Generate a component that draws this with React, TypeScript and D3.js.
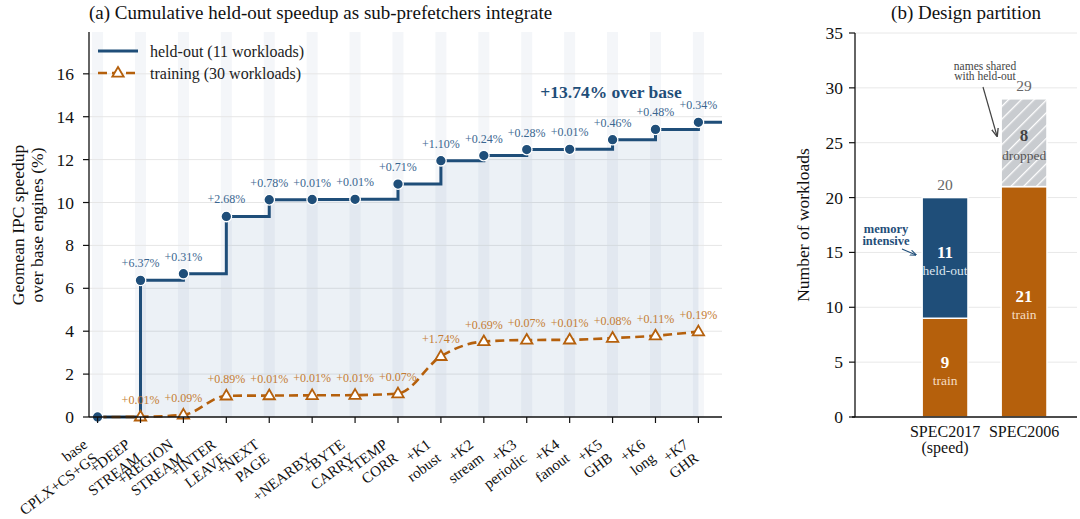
import React from 'react';
import * as d3 from 'd3';

// ---- data ----
const steps = [
  'base\nCPLX+CS+GS', '+DEEP\nSTREAM', '+REGION\nSTREAM', '+INTER\nLEAVE', '+NEXT\nPAGE',
  '\n+NEARBY', '+BYTE\nCARRY', '+TEMP\nCORR', '+K1\nrobust', '+K2\nstream', '+K3\nperiodic',
  '+K4\nfanout', '+K5\nGHB', '+K6\nlong', '+K7\nGHR',
];
const heldOut = [0, 6.37, 6.68, 9.35, 10.13, 10.14, 10.15, 10.86, 11.95, 12.19, 12.47, 12.48, 12.93, 13.41, 13.74];
const training = [0, 0.01, 0.10, 0.99, 1.00, 1.01, 1.02, 1.09, 2.83, 3.52, 3.59, 3.60, 3.68, 3.79, 3.98];
const heldDelta = ['', '+6.37%', '+0.31%', '+2.68%', '+0.78%', '+0.01%', '+0.01%', '+0.71%', '+1.10%', '+0.24%', '+0.28%', '+0.01%', '+0.46%', '+0.48%', '+0.34%'];
const trainDelta = ['', '+0.01%', '+0.09%', '+0.89%', '+0.01%', '+0.01%', '+0.01%', '+0.07%', '+1.74%', '+0.69%', '+0.07%', '+0.01%', '+0.08%', '+0.11%', '+0.19%'];
const leftTicks = [0, 2, 4, 6, 8, 10, 12, 14, 16];

const suites = ['SPEC2017\n(speed)', 'SPEC2006'];
const trainCounts = [9, 21];
const heldCounts = [11, 0];
const droppedCounts = [0, 8];
const rightTicks = [0, 5, 10, 15, 20, 25, 30, 35];

const BLUE = '#1f4e79';
const ORANGE = '#b5600c';
const FONT = '"Liberation Serif", "DejaVu Serif", serif';

export default function App() {
  const W = 1080, H = 519;

  // left panel scales
  const xA = d3.scaleLinear().domain([-0.2, 14.55]).range([89, 722]);
  const yA = d3.scaleLinear().domain([0, 17.95]).range([417, 32]);
  const idx = steps.map((_, i) => i);

  const stepLine = d3.line<[number, number]>()
    .x(d => xA(d[0])).y(d => yA(d[1])).curve(d3.curveStepAfter);
  const heldPts: [number, number][] = heldOut.map((v, i) => [i, v]);
  const heldPath = stepLine([...heldPts, [xA.domain()[1], heldOut[heldOut.length - 1]]])!;
  const heldArea = d3.area<[number, number]>()
    .x(d => xA(d[0])).y0(yA(0)).y1(d => yA(d[1])).curve(d3.curveStepAfter)(heldPts)!;
  const trainPath = d3.line<number>()
    .x((_, i) => xA(i)).y(d => yA(d)).curve(d3.curveMonotoneX)(training)!;

  const tri = (cx: number, cy: number, s = 6) =>
    `M${cx},${cy - s}L${cx + s * 0.95},${cy + s * 0.62}L${cx - s * 0.95},${cy + s * 0.62}Z`;

  // right panel scales
  const xB = d3.scaleLinear().domain([-1.14, 1.67]).range([855, 1077]);
  const yB = d3.scaleLinear().domain([0, 35]).range([417, 33]);
  const bw = xB(0.58) - xB(0);

  const ang = 37;
  const s = Math.sin(ang * Math.PI / 180), c = Math.cos(ang * Math.PI / 180);
  const lh = 17;

  return (
    <svg width={W} height={H} style={{ position: 'absolute', left: 0, top: 0, background: '#fff' }}
      fontFamily={FONT}>
      <defs>
        <pattern id="hatch" patternUnits="userSpaceOnUse" width="9" height="9" patternTransform="rotate(45)">
          <rect width="9" height="9" fill="#c9ccd0" />
          <line x1="0" y1="0" x2="0" y2="9" stroke="#fff" strokeWidth="2.6" />
        </pattern>
        <marker id="arrB" viewBox="0 0 10 10" refX="9" refY="5" markerWidth="6" markerHeight="6" orient="auto">
          <path d="M0,1L10,5L0,9" fill="none" stroke={BLUE} strokeWidth="1.6" />
        </marker>
        <marker id="arrG" viewBox="0 0 10 10" refX="9" refY="5" markerWidth="7" markerHeight="7" orient="auto">
          <path d="M0,1L10,5L0,9" fill="none" stroke="#444" strokeWidth="1.6" />
        </marker>
      </defs>

      {/* ===== (a) ===== */}
      <text x={89} y={19} fontSize={19} fill="#111">(a) Cumulative held-out speedup as sub-prefetchers integrate</text>

      {idx.map(i => (
        <rect key={'st' + i} x={xA(i) - 5.5} y={32} width={11} height={417 - 32} fill="#f4f6f9" />
      ))}
      {leftTicks.filter(t => t > 0).map(t => (
        <line key={'g' + t} x1={89} x2={722} y1={yA(t)} y2={yA(t)} stroke="#e6e6e6" strokeWidth={1} />
      ))}
      <path d={heldArea} fill="#2a5f99" fillOpacity={0.09} />

      <path d={heldPath} fill="none" stroke={BLUE} strokeWidth={3} />
      <path d={trainPath} fill="none" stroke={ORANGE} strokeWidth={2.6} strokeDasharray="9,5" />
      {training.map((v, i) => i > 0 && (
        <path key={'tr' + i} d={tri(xA(i), yA(v))} fill="#fff" stroke={ORANGE} strokeWidth={1.8} />
      ))}
      {heldOut.map((v, i) => (
        <circle key={'hd' + i} cx={xA(i)} cy={yA(v)} r={5.3} fill={BLUE} stroke="#fff" strokeWidth={1.3} />
      ))}
      {heldDelta.map((t, i) => t && (
        <text key={'hl' + i} x={xA(i)} y={yA(heldOut[i]) - 13} fontSize={12} textAnchor="middle" fill="#3a6690">{t}</text>
      ))}
      {trainDelta.map((t, i) => t && (
        <text key={'tl' + i} x={xA(i)} y={yA(training[i]) - 13} fontSize={12} textAnchor="middle" fill="#c47c33">{t}</text>
      ))}
      <text x={611} y={98} fontSize={17.5} fontWeight="bold" textAnchor="middle" fill={BLUE}>+13.74% over base</text>

      {/* legend */}
      <line x1={98} x2={138} y1={51} y2={51} stroke={BLUE} strokeWidth={3} />
      <text x={150} y={56.5} fontSize={16} fill="#222">held-out (11 workloads)</text>
      <line x1={98} x2={138} y1={73} y2={73} stroke={ORANGE} strokeWidth={2.6} strokeDasharray="9,5" />
      <path d={tri(118, 73)} fill="#fff" stroke={ORANGE} strokeWidth={1.8} />
      <text x={150} y={78.5} fontSize={16} fill="#222">training (30 workloads)</text>

      {/* axes */}
      <line x1={89} x2={89} y1={32} y2={417} stroke="#111" strokeWidth={1.3} />
      <line x1={89} x2={722} y1={417} y2={417} stroke="#111" strokeWidth={1.3} />
      {leftTicks.map(t => (
        <g key={'yt' + t}>
          <line x1={83} x2={89} y1={yA(t)} y2={yA(t)} stroke="#111" strokeWidth={1.2} />
          <text x={74} y={yA(t) + 6} fontSize={17.5} textAnchor="end" fill="#111">{t}</text>
        </g>
      ))}
      {steps.map((lab, i) => {
        const [l1, l2] = lab.split('\n');
        const ex = xA(i) + 1, ey = 460; // end of second line baseline
        const x1 = ex - lh * s, y1 = ey - lh * c;
        return (
          <g key={'xt' + i}>
            <line x1={xA(i)} x2={xA(i)} y1={417} y2={423} stroke="#111" strokeWidth={1.2} />
            {l1 && <text transform={`translate(${x1},${y1}) rotate(${-ang})`} fontSize={15} textAnchor="end" fill="#111">{l1}</text>}
            <text transform={`translate(${ex},${ey}) rotate(${-ang})`} fontSize={15} textAnchor="end" fill="#111">{l2}</text>
          </g>
        );
      })}
      <text transform="translate(24,225) rotate(-90)" fontSize={17.5} textAnchor="middle" fill="#111">
        <tspan x={0} dy={0}>Geomean IPC speedup</tspan>
        <tspan x={0} dy={19}>over base engines (%)</tspan>
      </text>

      {/* ===== (b) ===== */}
      <text x={966} y={19} fontSize={19} textAnchor="middle" fill="#111">(b) Design partition</text>
      {rightTicks.filter(t => t > 0).map(t => (
        <line key={'rg' + t} x1={855} x2={1077} y1={yB(t)} y2={yB(t)} stroke="#e8e8e8" strokeWidth={1} />
      ))}
      {suites.map((_, i) => {
        const x0 = xB(i) - bw / 2;
        const t = trainCounts[i], h = heldCounts[i], d = droppedCounts[i];
        return (
          <g key={'bar' + i}>
            <rect x={x0} y={yB(t)} width={bw} height={yB(0) - yB(t)} fill={ORANGE} stroke="#fff" strokeWidth={1.5} />
            {h > 0 && <rect x={x0} y={yB(t + h)} width={bw} height={yB(t) - yB(t + h)} fill={BLUE} stroke="#fff" strokeWidth={1.5} />}
            {d > 0 && <rect x={x0} y={yB(t + d)} width={bw} height={yB(t) - yB(t + d)} fill="url(#hatch)" stroke="#fff" strokeWidth={1.5} />}
            <text x={xB(i)} y={yB(t / 2)} fontSize={17} fontWeight="bold" textAnchor="middle" fill="#fff">{t}</text>
            <text x={xB(i)} y={yB(t / 2) + 17} fontSize={13.5} textAnchor="middle" fill="#f6dcc2">train</text>
            {h > 0 && <>
              <text x={xB(i)} y={yB(t + h / 2)} fontSize={17} fontWeight="bold" textAnchor="middle" fill="#fff">{h}</text>
              <text x={xB(i)} y={yB(t + h / 2) + 17} fontSize={13.5} textAnchor="middle" fill="#dbe4ee">held-out</text>
            </>}
            {d > 0 && <>
              <text x={xB(i)} y={yB(t + d / 2) - 2} fontSize={17} fontWeight="bold" textAnchor="middle" fill="#444">{d}</text>
              <text x={xB(i)} y={yB(t + d / 2) + 17} fontSize={13.5} textAnchor="middle" fill="#555">dropped</text>
            </>}
            <text x={xB(i)} y={yB(t + h + d) - 8} fontSize={15.5} textAnchor="middle" fill="#666">{t + h + d}</text>
          </g>
        );
      })}
      <text x={886} y={233} fontSize={12.5} fontWeight="bold" textAnchor="middle" fill={BLUE}>memory</text>
      <text x={886} y={245} fontSize={12.5} fontWeight="bold" textAnchor="middle" fill={BLUE}>intensive</text>
      <line x1={902} y1={249} x2={916} y2={255} stroke={BLUE} strokeWidth={1.1} markerEnd="url(#arrB)" />
      <text x={985} y={70} fontSize={11.5} textAnchor="middle" fill="#444">names shared</text>
      <text x={985} y={80} fontSize={11.5} textAnchor="middle" fill="#444">with held-out</text>
      <line x1={983} y1={87} x2={997} y2={136} stroke="#444" strokeWidth={1.2} markerEnd="url(#arrG)" />

      <line x1={855} x2={855} y1={33} y2={417} stroke="#111" strokeWidth={1.3} />
      <line x1={852} x2={1077} y1={417} y2={417} stroke="#111" strokeWidth={1.3} />
      {rightTicks.map(t => (
        <g key={'ryt' + t}>
          <line x1={849} x2={855} y1={yB(t)} y2={yB(t)} stroke="#111" strokeWidth={1.2} />
          <text x={843} y={yB(t) + 6} fontSize={17.5} textAnchor="end" fill="#111">{t}</text>
        </g>
      ))}
      {suites.map((lab, i) => (
        <text key={'sx' + i} x={xB(i)} y={437} fontSize={16} textAnchor="middle" fill="#111">
          {lab.split('\n').map((l, j) => <tspan key={j} x={xB(i)} dy={j === 0 ? 0 : 16}>{l}</tspan>)}
        </text>
      ))}
      <text transform="translate(809,225) rotate(-90)" fontSize={17.5} textAnchor="middle" fill="#111">Number of workloads</text>
    </svg>
  );
}
